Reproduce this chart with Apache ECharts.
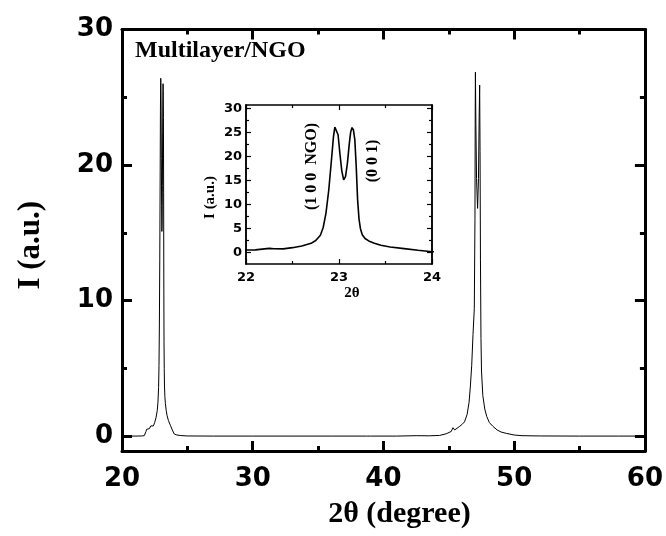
<!DOCTYPE html>
<html>
<head>
<meta charset="utf-8">
<script src="https://cdn.jsdelivr.net/npm/echarts@6/dist/echarts.min.js"></script>
<style>
html,body{margin:0;padding:0;background:#fff;}
#c{width:666px;height:536px;}
</style>
</head>
<body>
<div id="c"></div>
<script>
// ---- Data (2θ in degrees, intensity in a.u.) ----
var twoTheta = [
  20.0, 20.5, 21.0, 21.5, 21.7, 21.8, 21.84, 21.88, 21.95, 22.0,
  22.1, 22.2, 22.25, 22.3, 22.4, 22.5, 22.6, 22.7, 22.75, 22.8,
  22.83, 22.86, 22.89, 22.92, 22.94, 22.955, 22.965, 22.975, 22.99, 23.01,
  23.03, 23.05, 23.07, 23.09, 23.11, 23.125, 23.14, 23.155, 23.17, 23.185,
  23.2, 23.215, 23.23, 23.25, 23.28, 23.32, 23.38, 23.45, 23.55, 23.7,
  23.85, 24.0, 24.2, 24.5, 25.0, 27.0, 30.0, 33.0, 36.0, 38.7,
  38.85, 39.0, 41.0, 42.5, 43.5, 44.3, 44.8, 45.18, 45.32, 45.38,
  45.45, 45.6, 45.8, 46.0, 46.2, 46.4, 46.55, 46.65, 46.75, 46.85,
  46.95, 47.0, 47.02, 47.035, 47.07, 47.12, 47.2, 47.27, 47.32, 47.36,
  47.39, 47.42, 47.46, 47.5, 47.6, 47.75, 47.9, 48.1, 48.36, 48.7,
  49.0, 49.4, 50.0, 50.6, 52.0, 55.0, 58.0, 60.0
];
var intensity = [
  0, 0, 0, 0.01, 0.03, 0.1, 0.35, 0.5, 0.52, 0.5,
  0.55, 0.75, 0.85, 0.78, 0.75, 1.0, 1.35, 1.9, 2.5, 3.6,
  5.2, 8.2, 13, 19.5, 24, 26.1, 26.4, 26.1, 24.5, 20.5,
  17, 15.1, 15.8, 18.5, 22.5, 25.0, 26.0, 25.5, 23.5, 18,
  11, 7, 5, 3.7, 2.9, 2.4, 1.9, 1.5, 1.15, 0.8,
  0.45, 0.15, 0.08, 0.04, 0.01, 0, 0, 0, 0, 0,
  0.12, 0, 0, 0.03, 0.02, 0.05, 0.17, 0.34, 0.62, 0.75,
  0.45, 0.55, 0.7, 0.85, 1.05, 1.6, 2.5, 3.7, 5.2, 7.5,
  9.4, 16, 24, 26.85, 23, 19, 16.8, 19, 23.5, 25.9,
  21, 13, 7.2, 4.8, 3.0, 2.0, 1.45, 1.0, 0.73, 0.45,
  0.3, 0.2, 0.08, 0.03, 0.01, 0, 0, 0
];

// Tick values
var mainYMajor = [0, 10, 20, 30];
var mainYMinor = [5, 15, 25];
var insetYMajor = [0, 5, 10, 15, 20, 25, 30];
var insetYMinor = [2.5, 7.5, 12.5, 17.5, 22.5, 27.5];

// Texts
var mainXTitle = '2\u03b8 (degree)';
var mainYTitle = 'I (a.u.)';
var insetXTitle = '2\u03b8';
var insetYTitle = 'I (a.u.)';
var sampleLabel = 'Multilayer/NGO';
var peakLabel1 = '(1 0 0  NGO)';
var peakLabel2 = '(0 0 1)';

var points = twoTheta.map(function (x, i) { return [x, intensity[i]]; });

var SANS = 'DejaVu Sans';
var SERIF = 'Liberation Serif';

function xAx(grid, pos, min, max, interval, opts) {
  return Object.assign({
    type: 'value', gridIndex: grid, position: pos, min: min, max: max, interval: interval,
    axisLine: { show: true, onZero: false, lineStyle: { color: '#000', width: opts.lw } },
    axisTick: { show: true, inside: true, length: opts.major, lineStyle: { color: '#000', width: opts.tw } },
    minorTick: { show: true, splitNumber: 2, length: opts.minor, lineStyle: { color: '#000', width: opts.tw } },
    splitLine: { show: false },
    axisLabel: opts.label ? {
      show: true, margin: opts.margin, color: '#000',
      fontFamily: SANS, fontWeight: 'bold', fontSize: opts.fs
    } : { show: false }
  }, opts.extra || {});
}

function yAx(grid, pos, min, max, vals, len, opts) {
  return Object.assign({
    type: 'value', gridIndex: grid, position: pos, min: min, max: max,
    axisLine: { show: true, onZero: false, lineStyle: { color: '#000', width: opts.lw } },
    axisTick: { show: true, inside: true, length: len, customValues: vals, lineStyle: { color: '#000', width: opts.tw } },
    splitLine: { show: false },
    axisLabel: opts.label ? {
      show: true, customValues: vals, margin: opts.margin, color: '#000',
      fontFamily: SANS, fontWeight: 'bold', fontSize: opts.fs
    } : { show: false }
  }, opts.extra || {});
}

var MAIN = { lw: 3, tw: 3, major: 10, minor: 5 };
var INS = { lw: 1.5, tw: 1.2, major: 5, minor: 3 };

var option = {
  backgroundColor: '#fff',
  animation: false,
  grid: [
    { left: 122, right: 19, top: 29.5, bottom: 85, containLabel: false },
    { left: 246, right: 234, top: 105, bottom: 272, containLabel: false,
      show: true, backgroundColor: '#fff', borderWidth: 0 }
  ],
  xAxis: [
    xAx(0, 'bottom', 20, 60, 10, Object.assign({}, MAIN, { label: true, margin: 15, fs: 26,
      extra: { name: mainXTitle, nameLocation: 'middle', nameGap: 48,
        nameTextStyle: { fontFamily: SERIF, fontWeight: 'bold', fontSize: 30, color: '#000', padding: [0, 0, 0, 32] } } })),
    xAx(0, 'top', 20, 60, 10, Object.assign({}, MAIN, { label: false })),
    xAx(1, 'bottom', 22, 24, 1, Object.assign({}, INS, { label: true, margin: 7, fs: 13,
      extra: { name: insetXTitle, nameLocation: 'middle', nameGap: 22,
        nameTextStyle: { fontFamily: SERIF, fontWeight: 'bold', fontSize: 15, color: '#000', padding: [0, 0, 0, 26] } } })),
    xAx(1, 'top', 22, 24, 1, Object.assign({}, INS, { label: false }))
  ],
  yAxis: [
    yAx(0, 'left', -1.1, 30, mainYMajor, MAIN.major, Object.assign({}, MAIN, { label: true, margin: 9, fs: 26,
      extra: { name: mainYTitle, nameLocation: 'middle', nameGap: 76, nameRotate: 90,
        nameTextStyle: { fontFamily: SERIF, fontWeight: 'bold', fontSize: 31, color: '#000', padding: [0, 10, 0, 0] } } })),
    yAx(0, 'left', -1.1, 30, mainYMinor, MAIN.minor, Object.assign({}, MAIN, { label: false })),
    yAx(0, 'right', -1.1, 30, mainYMajor, MAIN.major, Object.assign({}, MAIN, { label: false })),
    yAx(0, 'right', -1.1, 30, mainYMinor, MAIN.minor, Object.assign({}, MAIN, { label: false })),
    yAx(1, 'left', -2.4, 30.7, insetYMajor, INS.major, Object.assign({}, INS, { label: true, margin: 4, fs: 13,
      extra: { name: insetYTitle, nameLocation: 'middle', nameGap: 28, nameRotate: 90,
        nameTextStyle: { fontFamily: SERIF, fontWeight: 'bold', fontSize: 15, color: '#000', padding: [0, 26, 0, 0] } } })),
    yAx(1, 'left', -2.4, 30.7, insetYMinor, INS.minor, Object.assign({}, INS, { label: false })),
    yAx(1, 'right', -2.4, 30.7, insetYMajor, INS.major, Object.assign({}, INS, { label: false })),
    yAx(1, 'right', -2.4, 30.7, insetYMinor, INS.minor, Object.assign({}, INS, { label: false }))
  ],
  series: [
    {
      type: 'line', xAxisIndex: 0, yAxisIndex: 0, data: points,
      showSymbol: false, symbol: 'none', clip: true,
      lineStyle: { color: '#000', width: 1 }
    },
    {
      type: 'line', xAxisIndex: 2, yAxisIndex: 4, data: points,
      showSymbol: false, symbol: 'none', clip: true,
      lineStyle: { color: '#000', width: 1.6 }
    }
  ],
  graphic: [
    { type: 'text', left: 135, top: 39, z: 100,
      style: { text: sampleLabel, fill: '#000', font: 'bold 24px "Liberation Serif"' } },
    { type: 'text', x: 312, y: 166.5, rotation: Math.PI / 2, z: 100,
      style: { text: peakLabel1, fill: '#000', font: 'bold 16px "Liberation Serif"', align: 'center', verticalAlign: 'middle' } },
    { type: 'text', x: 372.5, y: 161, rotation: Math.PI / 2, z: 100,
      style: { text: peakLabel2, fill: '#000', font: 'bold 16px "Liberation Serif"', align: 'center', verticalAlign: 'middle' } }
  ]
};

var chart = echarts.init(document.getElementById('c'), null, { renderer: 'canvas' });
chart.setOption(option);
</script>
</body>
</html>
